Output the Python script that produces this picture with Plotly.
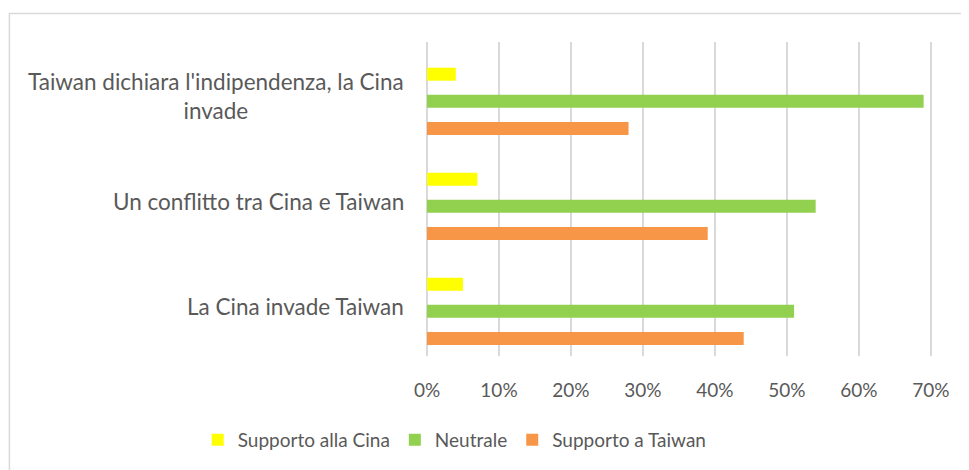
import plotly.graph_objects as go

categories = [
    "Taiwan dichiara l'indipendenza, la Cina<br>invade",
    "Un conflitto tra Cina e Taiwan",
    "La Cina invade Taiwan",
]
series_names = ["Supporto alla Cina", "Neutrale", "Supporto a Taiwan"]
supporto_cina = [4, 7, 5]
neutrale = [69, 54, 51]
supporto_taiwan = [28, 39, 44]
x_ticks = [0, 10, 20, 30, 40, 50, 60, 70]
x_tick_labels = ["0%", "10%", "20%", "30%", "40%", "50%", "60%", "70%"]

colors = ["#FFFF00", "#92D050", "#F79646"]
FONT = "Lato"
TXT = "#595959"

W, H = 961, 462          # page body has an 8px margin
OFF = 8
PL, PR = 426.5 - OFF, 933 - OFF     # plot area left/right (figure px)
PT, PB = 42 - OFF, 356 - OFF        # plot area top/bottom (figure px)
PW, PH = PR - PL, PB - PT

fig = go.Figure()
for name, vals, col in zip(series_names, [supporto_cina, neutrale, supporto_taiwan], colors):
    fig.add_trace(go.Bar(
        y=categories, x=vals, name=name, orientation="h",
        marker=dict(color=col, line=dict(width=0)),
    ))

for c in categories:
    fig.add_annotation(
        x=(405 - OFF - PL) / PW, xref="paper", y=c, yref="y", text=c, showarrow=False,
        xanchor="right", yanchor="middle", align="center", yshift=5,
        font=dict(family=FONT, size=22.5, color=TXT),
    )

fig.update_layout(
    width=W, height=H,
    margin=dict(l=PL, r=W - PR, t=PT, b=H - PB, autoexpand=False),
    paper_bgcolor="white", plot_bgcolor="white",
    barmode="group", bargap=0.225, bargroupgap=0.52,
    showlegend=True,
    legend=dict(orientation="h", xref="paper", yref="paper",
                x=(197 - OFF - PL) / PW, xanchor="left",
                y=-(440 - OFF - PB) / PH, yanchor="middle",
                font=dict(family=FONT, size=19, color=TXT), traceorder="normal"),
    xaxis=dict(range=[0, 70.3], tickvals=x_ticks, ticktext=x_tick_labels,
               showgrid=True, gridcolor="#d9d9d9", gridwidth=1.5,
               zeroline=True, zerolinecolor="#d9d9d9", zerolinewidth=1.5,
               showline=False, ticks="", ticklabelstandoff=21,
               tickfont=dict(family=FONT, size=19, color=TXT)),
    yaxis=dict(type="category", categoryorder="array", categoryarray=categories,
               range=[2.426, -0.565], showticklabels=False, showgrid=False,
               zeroline=False, showline=False, ticks=""),
    shapes=[dict(type="rect", xref="paper", yref="paper",
                 x0=(8.5 - OFF - PL) / PW, x1=(980 - PL) / PW,
                 y0=-(480 - PB) / PH, y1=1 + (PT - (13.5 - OFF)) / PH,
                 line=dict(color="#d9d9d9", width=1.5), fillcolor="rgba(0,0,0,0)",
                 layer="below")],
)

fig.write_html("out.html")
